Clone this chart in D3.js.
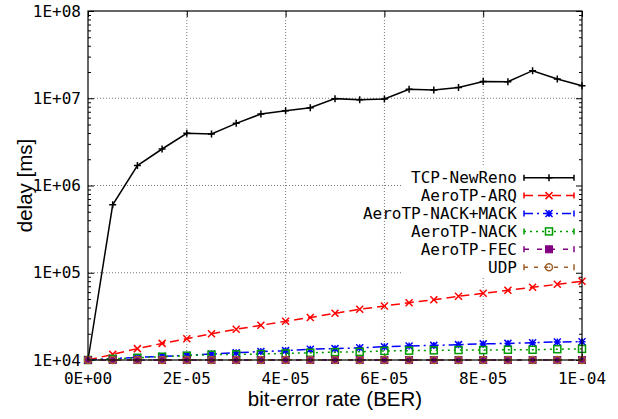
<!DOCTYPE html>
<html><head><meta charset="utf-8">
<script src="https://cdn.jsdelivr.net/npm/d3@7"></script>
<style>body{margin:0;background:#fff}svg{display:block}</style>
</head><body>
<svg id="c" width="618" height="419"></svg>
<script>
const ber = [0,0.5e-5,1e-5,1.5e-5,2e-5,2.5e-5,3e-5,3.5e-5,4e-5,4.5e-5,5e-5,5.5e-5,6e-5,6.5e-5,7e-5,7.5e-5,8e-5,8.5e-5,9e-5,9.5e-5,1e-4];
const tcpNewReno = [1e4,6.0e5,1.69e6,2.62e6,3.96e6,3.89e6,5.16e6,6.6e6,7.2e6,7.8e6,9.9e6,9.6e6,9.8e6,1.27e7,1.24e7,1.33e7,1.56e7,1.55e7,2.07e7,1.66e7,1.39e7];
const aeroArq = [1e4,1.16e4,1.35e4,1.55e4,1.75e4,2.0e4,2.25e4,2.5e4,2.78e4,3.07e4,3.43e4,3.81e4,4.16e4,4.54e4,4.91e4,5.37e4,5.81e4,6.29e4,6.81e4,7.37e4,7.98e4];
const aeroNackMack = [1e4,1.04e4,1.07e4,1.10e4,1.13e4,1.17e4,1.21e4,1.25e4,1.28e4,1.33e4,1.35e4,1.38e4,1.42e4,1.45e4,1.47e4,1.50e4,1.53e4,1.55e4,1.58e4,1.61e4,1.62e4];
const aeroNack = [1e4,1.03e4,1.06e4,1.09e4,1.12e4,1.15e4,1.16e4,1.17e4,1.19e4,1.21e4,1.23e4,1.24e4,1.27e4,1.28e4,1.29e4,1.30e4,1.30e4,1.31e4,1.31e4,1.33e4,1.34e4];
const aeroFec = [1e4,1e4,1e4,1e4,1e4,1e4,1e4,1e4,1e4,1e4,1e4,1e4,1e4,1e4,1e4,1e4,1e4,1e4,1e4,1e4,1e4];
const udp = [1e4,1e4,1e4,1e4,1e4,1e4,1e4,1e4,1e4,1e4,1e4,1e4,1e4,1e4,1e4,1e4,1e4,1e4,1e4,1e4,1e4];
const seriesNames = ["TCP-NewReno","AeroTP-ARQ","AeroTP-NACK+MACK","AeroTP-NACK","AeroTP-FEC","UDP"];
const xTicks = [0,2e-5,4e-5,6e-5,8e-5,1e-4];
const xTickLabels = ["0E+00","2E-05","4E-05","6E-05","8E-05","1E-04"];
const yTicks = [1e4,1e5,1e6,1e7,1e8];
const yTickLabels = ["1E+04","1E+05","1E+06","1E+07","1E+08"];

const seriesValues = [tcpNewReno, aeroArq, aeroNackMack, aeroNack, aeroFec, udp];
const styles = [
  {color:"#000000", dash:null, marker:"plus"},
  {color:"#ff0000", dash:"9,5", marker:"cross"},
  {color:"#0000ff", dash:"9,4,2,4", marker:"star"},
  {color:"#009a00", dash:"2,4", marker:"square"},
  {color:"#800080", dash:"5,8", marker:"fsquare"},
  {color:"#a0602d", dash:"4,6", marker:"circle"}
];

const L=88, R=582, T=11, B=360;
const svg = d3.select("#c");
const x = d3.scaleLinear().domain([0,1e-4]).range([L,R]);
const y = d3.scaleLog().domain([1e4,1e8]).range([B,T]);
const mono = "'DejaVu Sans Mono', monospace";
const sans = "'Liberation Sans', Arial, sans-serif";

// grid
const grid = svg.append("g");
xTicks.slice(1,-1).forEach(v=>{
  grid.append("line").attr("x1",x(v)).attr("x2",x(v)).attr("y1",T).attr("y2",B)
    .attr("stroke","#777").attr("stroke-width",1).attr("stroke-dasharray","1,2");
});
yTicks.slice(1,-1).forEach(v=>{
  grid.append("line").attr("x1",L).attr("x2",R).attr("y1",y(v)).attr("y2",y(v))
    .attr("stroke","#777").attr("stroke-width",1).attr("stroke-dasharray","1,2");
});

// legend mask
svg.append("rect").attr("x",401).attr("y",165).attr("width",R-401).attr("height",113).attr("fill","#fff");

// axes ticks via d3 axes (inward)
const minor = [];
for (let e=4;e<8;e++) for (let m=2;m<=9;m++) minor.push(m*Math.pow(10,e));
function tickAxis(axisFn, tr, vals, size){
  const g = svg.append("g").attr("transform",tr)
    .call(axisFn.tickValues(vals).tickSize(size).tickFormat(""));
  g.select(".domain").remove();
  g.selectAll("line").attr("stroke","#000");
  return g;
}
tickAxis(d3.axisRight(y), `translate(${L},0)`, yTicks, 6);
tickAxis(d3.axisRight(y), `translate(${L},0)`, minor, 3);
tickAxis(d3.axisLeft(y), `translate(${R},0)`, yTicks, 6);
tickAxis(d3.axisLeft(y), `translate(${R},0)`, minor, 3);
tickAxis(d3.axisTop(x), `translate(0,${B})`, xTicks, 6);
tickAxis(d3.axisBottom(x), `translate(0,${T})`, xTicks, 6);

// tick labels
xTicks.forEach((v,i)=>{
  svg.append("text").attr("x",x(v)).attr("y",384).attr("text-anchor","middle")
    .attr("font-family",mono).attr("font-size",16).attr("fill","#000").text(xTickLabels[i]);
});
yTicks.forEach((v,i)=>{
  svg.append("text").attr("x",81).attr("y",y(v)).attr("dy","0.35em").attr("text-anchor","end")
    .attr("font-family",mono).attr("font-size",16).attr("fill","#000").text(yTickLabels[i]);
});

// axis titles
svg.append("text").attr("x",(L+R)/2).attr("y",406).attr("text-anchor","middle")
  .attr("font-family",sans).attr("font-size",20.5).attr("fill","#000").text("bit-error rate (BER)");
svg.append("text").attr("transform",`translate(32,${(T+B)/2}) rotate(-90)`).attr("text-anchor","middle")
  .attr("font-family",sans).attr("font-size",20.5).attr("fill","#000").text("delay [ms]");

function marker(g, type, cx, cy, color){
  const s=3.5;
  if(type==="plus"){
    g.append("path").attr("d",`M${cx-s},${cy}H${cx+s}M${cx},${cy-s}V${cy+s}`).attr("stroke",color).attr("stroke-width",1.5);
  } else if(type==="cross"){
    g.append("path").attr("d",`M${cx-s},${cy-s}L${cx+s},${cy+s}M${cx-s},${cy+s}L${cx+s},${cy-s}`).attr("stroke",color).attr("stroke-width",1.5);
  } else if(type==="star"){
    g.append("path").attr("d",`M${cx-s},${cy-s}L${cx+s},${cy+s}M${cx-s},${cy+s}L${cx+s},${cy-s}M${cx-s},${cy}H${cx+s}M${cx},${cy-s}V${cy+s}`).attr("stroke",color).attr("stroke-width",1.5);
  } else if(type==="square"){
    g.append("rect").attr("x",cx-s).attr("y",cy-s).attr("width",2*s).attr("height",2*s).attr("fill","none").attr("stroke",color).attr("stroke-width",1.5);
  } else if(type==="fsquare"){
    g.append("rect").attr("x",cx-s).attr("y",cy-s).attr("width",2*s).attr("height",2*s).attr("fill",color).attr("stroke",color).attr("stroke-width",1);
  } else if(type==="circle"){
    g.append("circle").attr("cx",cx).attr("cy",cy).attr("r",s).attr("fill","none").attr("stroke",color).attr("stroke-width",1.5);
    g.append("circle").attr("cx",cx+0.5).attr("cy",cy).attr("r",0.8).attr("fill",color);
  }
}

// data
const line = d3.line().x(d=>x(d[0])).y(d=>y(d[1]));
seriesValues.forEach((vals,i)=>{
  const st = styles[i];
  const g = svg.append("g");
  const pts = ber.map((b,j)=>[b,vals[j]]);
  g.append("path").attr("d",line(pts)).attr("fill","none").attr("stroke",st.color)
    .attr("stroke-width",1.5).attr("stroke-dasharray",st.dash);
  pts.forEach(p=>marker(g, st.marker, x(p[0]), y(p[1]), st.color));
});

// border
svg.append("rect").attr("x",L).attr("y",T).attr("width",R-L).attr("height",B-T)
  .attr("fill","none").attr("stroke","#000").attr("stroke-width",1.2);

// legend
const legY0 = 177.7, legDy = 17.9;
seriesNames.forEach((name,i)=>{
  const st = styles[i];
  const yy = legY0 + i*legDy;
  const g = svg.append("g");
  g.append("text").attr("x",517).attr("y",yy).attr("dy","0.35em").attr("text-anchor","end")
    .attr("font-family",mono).attr("font-size",16).attr("fill","#000").text(name);
  g.append("line").attr("x1",524).attr("x2",574).attr("y1",yy).attr("y2",yy)
    .attr("stroke",st.color).attr("stroke-width",1.5).attr("stroke-dasharray",st.dash);
  g.append("path").attr("d",`M524,${yy-3}V${yy+3}M574,${yy-3}V${yy+3}`).attr("stroke",st.color).attr("stroke-width",1.5);
  marker(g, st.marker, 549, yy, st.color);
});
</script>
</body></html>
